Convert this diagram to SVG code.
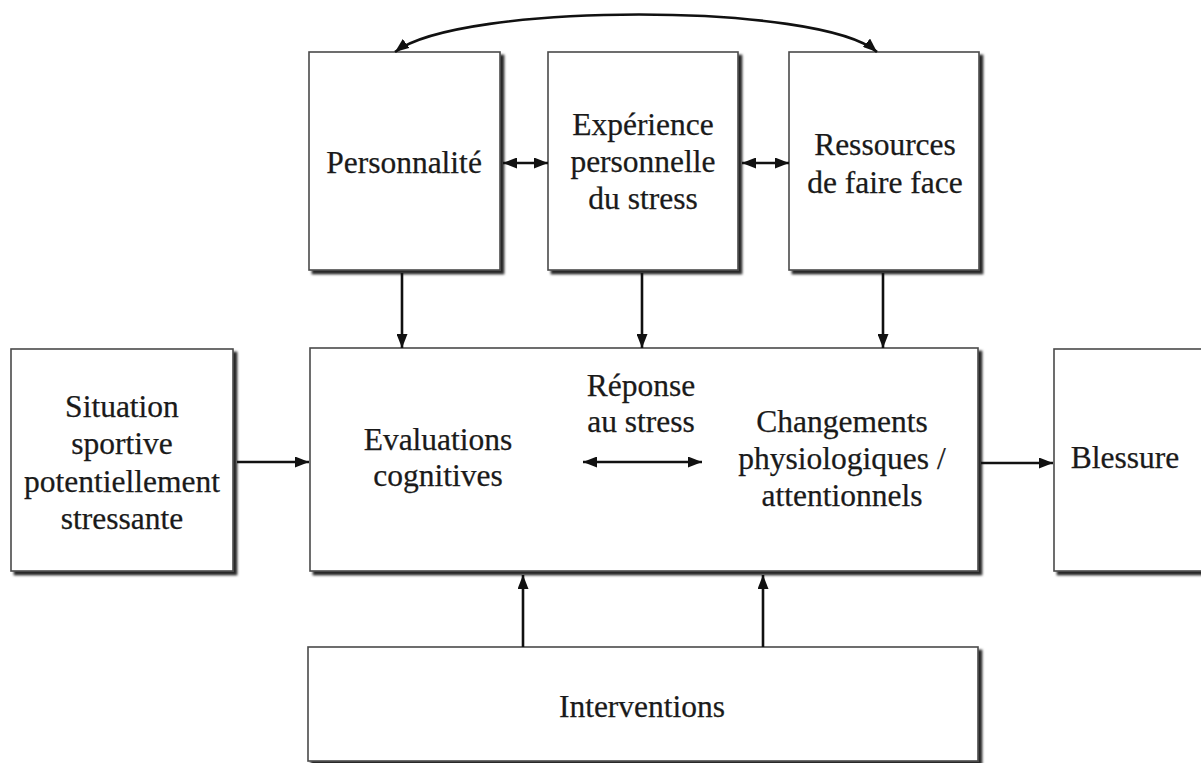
<svg xmlns="http://www.w3.org/2000/svg" width="1201" height="763" viewBox="0 0 1201 763">
  <style>
    .box { fill: #ffffff; stroke: #4a4a4a; stroke-width: 1.6; filter: url(#shadow); }
    .lbl { font-family: "Liberation Serif", "Times New Roman", serif; font-size: 31.5px; fill: #1a1a1a; stroke: #1a1a1a; stroke-width: 0.25; text-anchor: middle; }
    .edge { fill: none; stroke: #111; stroke-width: 2.6; }
    .arr { marker-end: url(#head); }
    .dbl { marker-start: url(#head); marker-end: url(#head); }
  </style>
  <defs>
    <filter id="shadow" x="-10%" y="-10%" width="130%" height="130%">
      <feDropShadow dx="3.5" dy="3.5" stdDeviation="1.3" flood-color="#000" flood-opacity="0.85"/>
    </filter>
    <marker id="head" viewBox="0 0 14 11" refX="14" refY="5.5" markerWidth="14" markerHeight="11" markerUnits="userSpaceOnUse" orient="auto-start-reverse">
      <path d="M0,0 L14,5.5 L0,11 z" fill="#111"/>
    </marker>
  </defs>
  <rect width="1201" height="763" fill="#ffffff"/>

  <g id="personnalite">
    <rect class="box" x="309" y="52" width="191" height="218"/>
    <text class="lbl" x="404" y="173">Personnalité</text>
  </g>
  <g id="experience">
    <rect class="box" x="548" y="52" width="190" height="218"/>
    <text class="lbl" x="643" y="135">Expérience</text>
    <text class="lbl" x="643" y="172">personnelle</text>
    <text class="lbl" x="643" y="209">du stress</text>
  </g>
  <g id="ressources">
    <rect class="box" x="789" y="52" width="190" height="218"/>
    <text class="lbl" x="885" y="155">Ressources</text>
    <text class="lbl" x="885" y="193">de faire face</text>
  </g>
  <g id="situation">
    <rect class="box" x="11" y="349" width="222" height="222"/>
    <text class="lbl" x="122" y="417">Situation</text>
    <text class="lbl" x="122" y="454">sportive</text>
    <text class="lbl" x="122" y="492">potentiellement</text>
    <text class="lbl" x="122" y="529">stressante</text>
  </g>
  <g id="reponse">
    <rect class="box" x="310" y="348" width="668" height="223"/>
    <text class="lbl" x="438" y="450">Evaluations</text>
    <text class="lbl" x="438" y="486">cognitives</text>
    <text class="lbl" x="641" y="396">Réponse</text>
    <text class="lbl" x="641" y="432">au stress</text>
    <text class="lbl" x="842" y="432">Changements</text>
    <text class="lbl" x="842" y="469">physiologiques /</text>
    <text class="lbl" x="842" y="506">attentionnels</text>
  </g>
  <g id="blessure">
    <rect class="box" x="1054" y="349" width="152" height="222"/>
    <text class="lbl" x="1125" y="468">Blessure</text>
  </g>
  <g id="interventions">
    <rect class="box" x="308" y="647" width="670" height="114"/>
    <text class="lbl" x="642" y="717">Interventions</text>
  </g>

  <g id="connectors">
    <path class="edge dbl" d="M395,52 C460,2 820,2 877,52"/>
    <line class="edge dbl" x1="503" y1="163" x2="548" y2="163"/>
    <line class="edge dbl" x1="742" y1="163" x2="789" y2="163"/>
    <line class="edge arr" x1="402" y1="273" x2="402" y2="348"/>
    <line class="edge arr" x1="642" y1="273" x2="642" y2="348"/>
    <line class="edge arr" x1="883" y1="273" x2="883" y2="348"/>
    <line class="edge arr" x1="237" y1="462" x2="309" y2="462"/>
    <line class="edge arr" x1="981" y1="463" x2="1053" y2="463"/>
    <line class="edge dbl" x1="583" y1="462" x2="702" y2="462"/>
    <line class="edge arr" x1="523" y1="647" x2="523" y2="575"/>
    <line class="edge arr" x1="763" y1="647" x2="763" y2="575"/>
  </g>
</svg>
